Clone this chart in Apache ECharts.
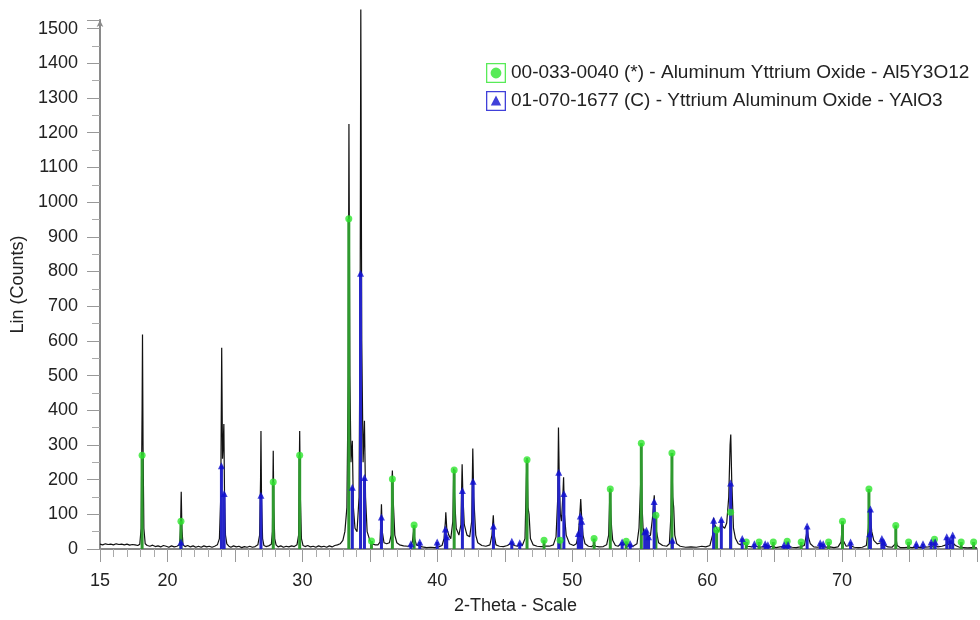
<!DOCTYPE html>
<html>
<head>
<meta charset="utf-8">
<script src="https://cdn.jsdelivr.net/npm/echarts@6/dist/echarts.min.js"></script>
<style>
  html, body { margin: 0; padding: 0; background: #fff; }
  #chart { width: 980px; height: 620px; }
</style>
</head>
<body>
<div id="chart"></div>
<script>
const patternTwoTheta = [
  15.0, 15.2, 15.4, 15.6, 15.8, 16.0, 16.2, 16.4, 16.6, 16.8, 17.0, 17.2, 17.4, 17.6, 17.8, 17.95,
  18.05, 18.12, 18.15, 18.19, 18.25, 18.35, 18.5, 18.7, 18.9, 19.1, 19.3, 19.5, 19.7, 19.9,
  20.1, 20.3, 20.5, 20.7, 20.9, 20.97, 21.02, 21.07, 21.15, 21.3, 21.5, 21.7, 21.9, 22.1, 22.3,
  22.5, 22.7, 22.9, 23.1, 23.3, 23.5, 23.7, 23.85, 23.95, 24.02, 24.08, 24.13, 24.18, 24.23,
  24.3, 24.4, 24.55, 24.7, 24.9, 25.1, 25.3, 25.5, 25.7, 25.9, 26.1, 26.3, 26.5, 26.7, 26.83,
  26.9, 26.93, 26.97, 27.05, 27.15, 27.3, 27.5, 27.7, 27.78, 27.84, 27.88, 27.95, 28.05, 28.2,
  28.4, 28.6, 28.8, 29.0, 29.2, 29.4, 29.6, 29.72, 29.8, 29.85, 29.93, 30.05, 30.2, 30.4, 30.6,
  30.8, 31.0, 31.2, 31.4, 31.6, 31.8, 32.0, 32.2, 32.4, 32.6, 32.8, 33.0, 33.15, 33.3, 33.4,
  33.45, 33.52, 33.6, 33.7, 33.78, 33.9, 34.05, 34.2, 34.28, 34.33, 34.4, 34.5, 34.6, 34.68,
  34.8, 35.0, 35.15, 35.4, 35.6, 35.75, 35.82, 35.86, 35.92, 36.05, 36.25, 36.45, 36.58, 36.64,
  36.67, 36.72, 36.85, 37.0, 37.2, 37.5, 37.8, 38.0, 38.15, 38.25, 38.32, 38.45, 38.7, 38.9,
  39.2, 39.5, 39.8, 40.1, 40.35, 40.5, 40.6, 40.63, 40.7, 40.85, 41.0, 41.15, 41.22, 41.28,
  41.4, 41.6, 41.75, 41.84, 41.9, 42.0, 42.2, 42.4, 42.55, 42.63, 42.7, 42.85, 43.0, 43.3,
  43.6, 43.9, 44.05, 44.15, 44.22, 44.35, 44.6, 44.9, 45.2, 45.5, 45.7, 45.95, 46.1, 46.3,
  46.5, 46.6, 46.65, 46.72, 46.8, 46.9, 47.1, 47.4, 47.7, 48.0, 48.3, 48.6, 48.8, 48.93, 48.98,
  49.04, 49.12, 49.2, 49.3, 49.36, 49.42, 49.55, 49.8, 50.1, 50.3, 50.45, 50.55, 50.63, 50.7,
  50.8, 50.95, 51.2, 51.45, 51.6, 51.75, 52.0, 52.3, 52.55, 52.7, 52.8, 52.86, 52.92, 53.0,
  53.2, 53.4, 53.6, 53.8, 54.0, 54.2, 54.5, 54.8, 54.95, 55.08, 55.12, 55.18, 55.25, 55.35,
  55.45, 55.6, 55.8, 55.95, 56.08, 56.15, 56.25, 56.4, 56.7, 57.0, 57.2, 57.32, 57.38, 57.45,
  57.52, 57.6, 57.75, 58.0, 58.4, 58.8, 59.2, 59.6, 59.9, 60.2, 60.4, 60.48, 60.56, 60.7, 60.85,
  60.95, 61.05, 61.15, 61.3, 61.45, 61.6, 61.7, 61.75, 61.82, 61.95, 62.1, 62.3, 62.5, 62.62,
  62.75, 63.0, 63.3, 63.6, 63.9, 64.2, 64.5, 64.8, 65.1, 65.4, 65.7, 66.0, 66.3, 66.6, 66.9,
  67.2, 67.35, 67.42, 67.5, 67.65, 67.9, 68.2, 68.5, 68.8, 69.1, 69.4, 69.7, 69.92, 70.0, 70.08,
  70.3, 70.6, 70.9, 71.2, 71.5, 71.8, 71.95, 72.02, 72.08, 72.2, 72.35, 72.6, 72.9, 73.1, 73.4,
  73.7, 73.95, 74.0, 74.08, 74.3, 74.6, 74.9, 75.2, 75.5, 75.8, 76.1, 76.4, 76.7, 76.9, 77.1,
  77.4, 77.7, 78.0, 78.2, 78.4, 78.7, 79.0, 79.3, 79.6, 80.0
];
const patternCounts = [
  14, 12, 15, 13, 14, 12, 15, 13, 14, 12, 14, 11, 13, 12, 10, 14,
  60, 400, 618, 300, 60, 15, 10, 8, 11, 7, 9, 6, 10, 8,
  5, 9, 6, 8, 12, 60, 165, 60, 12, 7, 10, 6, 9, 5, 8,
  5, 9, 6, 8, 5, 8, 12, 30, 150, 580, 260, 300, 360, 150,
  40, 15, 8, 5, 9, 6, 8, 4, 7, 5, 8, 5, 7, 12, 40,
  200, 340, 150, 30, 10, 7, 9, 14, 50, 283, 120, 30, 12, 6,
  9, 5, 8, 6, 9, 7, 12, 40, 340, 150, 30, 10, 7, 10, 6,
  8, 5, 9, 6, 8, 5, 9, 6, 10, 12, 15, 25, 50, 120, 500,
  1225, 500, 250, 312, 120, 60, 50, 150, 700, 1555, 600, 250, 370, 150,
  50, 25, 15, 12, 12, 20, 80, 129, 50, 18, 15, 18, 40, 200,
  226, 150, 40, 18, 12, 9, 8, 10, 20, 54, 30, 12, 8, 6,
  4, 5, 4, 6, 10, 30, 80, 106, 60, 40, 30, 80, 232, 150,
  60, 40, 70, 244, 150, 70, 40, 35, 80, 290, 150, 40, 18, 10,
  8, 12, 40, 97, 40, 12, 8, 7, 10, 18, 10, 8, 15, 10,
  30, 200, 262, 120, 100, 30, 12, 8, 7, 8, 8, 12, 35, 150, 350,
  200, 100, 80, 150, 207, 100, 40, 15, 10, 15, 40, 90, 144, 90,
  40, 15, 8, 7, 12, 8, 6, 7, 12, 40, 175, 100, 60, 25,
  10, 8, 15, 12, 20, 10, 8, 15, 60, 200, 290, 120, 60, 40,
  30, 35, 40, 90, 155, 100, 50, 18, 10, 8, 15, 100, 270, 150,
  120, 40, 15, 8, 5, 6, 5, 8, 6, 10, 40, 90, 70, 60, 50,
  60, 80, 65, 60, 75, 150, 300, 330, 200, 60, 30, 15, 12, 30,
  15, 8, 6, 8, 5, 7, 5, 8, 4, 6, 7, 8, 5, 4, 6,
  10, 40, 55, 35, 15, 6, 5, 8, 5, 6, 4, 6, 20, 60, 25,
  8, 10, 5, 4, 5, 10, 60, 120, 100, 50, 25, 15, 18, 12, 6,
  5, 15, 30, 10, 4, 4, 5, 4, 6, 4, 5, 6, 8, 10, 6,
  8, 12, 15, 18, 10, 5, 4, 3, 4, 3
];

// 00-033-0040 Al5Y3O12 reference lines
const yagTwoTheta = [18.12, 21.0, 27.84, 29.8, 33.44, 35.12, 36.67, 38.28, 41.25, 46.65, 47.91,
  49.1, 51.62, 52.82, 54.0, 55.12, 56.2, 57.39, 60.7, 61.74, 62.9, 63.85, 64.9, 65.93, 66.97,
  69.0, 70.03, 71.99, 73.98, 74.93, 76.85, 78.83, 79.75];
const yagCounts = [270, 80, 193, 270, 952, 23, 202, 69, 228, 257, 25,
  25, 30, 173, 22, 305, 97, 277, 55, 106, 20, 20, 20, 22, 20,
  20, 80, 173, 68, 20, 28, 20, 20];

// 01-070-1677 YAlO3 reference lines
const yapTwoTheta = [21.0, 24.0, 24.2, 26.93, 33.7, 34.31, 34.6, 35.86, 38.04, 38.7, 39.99,
  40.6, 40.7, 41.86, 42.65, 44.16, 45.52, 46.11, 49.0, 49.38, 50.45, 50.6, 50.7, 53.7, 54.3,
  55.37, 55.5, 55.66, 56.07, 57.42, 60.48, 61.05, 61.74, 62.6, 63.5, 64.3, 64.5, 65.7, 66.0,
  67.41, 68.38, 68.6, 70.63, 72.05, 72.1, 72.95, 73.1, 75.5, 76.0, 76.6, 76.9, 77.76, 78.0, 78.2];
const yapCounts = [20, 240, 160, 155, 178, 795, 206, 92, 15, 20, 20,
  58, 35, 169, 195, 66, 22, 18, 221, 160, 45, 95, 80, 20, 15,
  50, 54, 35, 137, 25, 83, 85, 190, 30, 15, 15, 12, 12, 12,
  66, 18, 15, 20, 44, 115, 30, 20, 15, 15, 20, 20, 35, 25, 40];

const yTicks = [0, 100, 200, 300, 400, 500, 600, 700, 800, 900, 1000, 1100, 1200, 1300, 1400, 1500];
const xLabels = [15, 20, 30, 40, 50, 60, 70];

const yagName = "00-033-0040 (*) - Aluminum Yttrium Oxide - Al5Y3O12";
const yapName = "01-070-1677 (C) - Yttrium Aluminum Oxide - YAlO3";

const GREEN_STICK = "#2f9a2f";
const GREEN_DOT = "#2ee62e";
const BLUE_STICK = "#2424c8";
const BLUE_DOT = "#1010d0";

function zip(xs, ys) {
  return xs.map((x, i) => [x, ys[i]]);
}

function stickRenderer(color) {
  return function (params, api) {
    const x = api.value(0);
    const p0 = api.coord([x, 0]);
    const p1 = api.coord([x, api.value(1)]);
    return {
      type: "line",
      shape: { x1: p0[0], y1: p0[1], x2: p1[0], y2: p1[1] },
      style: { stroke: color, lineWidth: 3 },
    };
  };
}

const chart = echarts.init(document.getElementById("chart"));
const font = "'Liberation Sans', Arial, sans-serif";

const option = {
  animation: false,
  textStyle: { fontFamily: font },
  grid: { left: 100, right: 3, top: 20, bottom: 68 },
  legend: {
    orient: "vertical",
    left: 481,
    top: 58,
    itemWidth: 20,
    itemHeight: 20,
    itemGap: 8,
    selectedMode: false,
    textStyle: { fontSize: 19, color: "#222", fontFamily: font },
    data: [
      {
        name: yagName,
        icon: "path://M0,0H20V20H0Z M1.3,1.3V18.7H18.7V1.3Z M4.6,10A5.4,5.4 0 1 0 15.4,10A5.4,5.4 0 1 0 4.6,10Z",
      },
      {
        name: yapName,
        icon: "path://M0,0H20V20H0Z M1.3,1.3V18.7H18.7V1.3Z M10,4.5L15.2,14.5H4.8Z",
      },
    ],
  },
  xAxis: {
    type: "value",
    min: 15,
    max: 80,
    interval: 5,
    name: "2-Theta - Scale",
    nameLocation: "middle",
    nameGap: 48,
    nameTextStyle: { fontSize: 18, color: "#222", padding: [0, 46, 0, 0] },
    axisLine: { lineStyle: { color: "#8a8a8a", width: 2 } },
    axisTick: { show: true, inside: false, length: 13, lineStyle: { color: "#999" } },
    minorTick: { show: true, splitNumber: 5, length: 8, lineStyle: { color: "#aaa" } },
    splitLine: { show: false },
    axisLabel: {
      fontSize: 18,
      color: "#222",
      margin: 23,
      showMaxLabel: false,
      formatter: (v) => (xLabels.includes(v) ? String(v) : ""),
    },
  },
  yAxis: {
    type: "value",
    min: 0,
    max: 1525,
    interval: 100,
    name: "Lin (Counts)",
    nameLocation: "middle",
    nameGap: 68,
    nameTextStyle: { fontSize: 18, color: "#222" },
    axisLine: {
      show: true,
      symbol: ["none", "arrow"],
      symbolSize: [5, 7],
      lineStyle: { color: "#8a8a8a", width: 2 },
    },
    axisTick: { show: true, inside: false, length: 13, lineStyle: { color: "#999" } },
    minorTick: { show: true, splitNumber: 2, length: 8, lineStyle: { color: "#aaa" } },
    splitLine: { show: false },
    axisLabel: {
      fontSize: 18,
      color: "#222",
      margin: 22,
      formatter: (v) => (yTicks.includes(v) ? String(v) : ""),
    },
  },
  series: [
    {
      name: "pattern",
      type: "line",
      data: zip(patternTwoTheta, patternCounts),
      showSymbol: false,
      clip: false,
      lineStyle: { color: "#111", width: 1.2 },
      z: 2,
    },
    {
      name: "yag-sticks",
      type: "custom",
      renderItem: stickRenderer(GREEN_STICK),
      data: zip(yagTwoTheta, yagCounts),
      z: 3,
    },
    {
      name: "yap-sticks",
      type: "custom",
      renderItem: stickRenderer(BLUE_STICK),
      data: zip(yapTwoTheta, yapCounts),
      z: 3,
    },
    {
      name: yagName,
      type: "scatter",
      symbol: "circle",
      symbolSize: 7,
      itemStyle: { color: GREEN_DOT },
      data: zip(yagTwoTheta, yagCounts),
      z: 4,
    },
    {
      name: yapName,
      type: "scatter",
      symbol: "triangle",
      symbolSize: 7,
      itemStyle: { color: BLUE_DOT },
      data: zip(yapTwoTheta, yapCounts),
      z: 4,
    },
  ],
};

chart.setOption(option);
</script>
</body>
</html>
